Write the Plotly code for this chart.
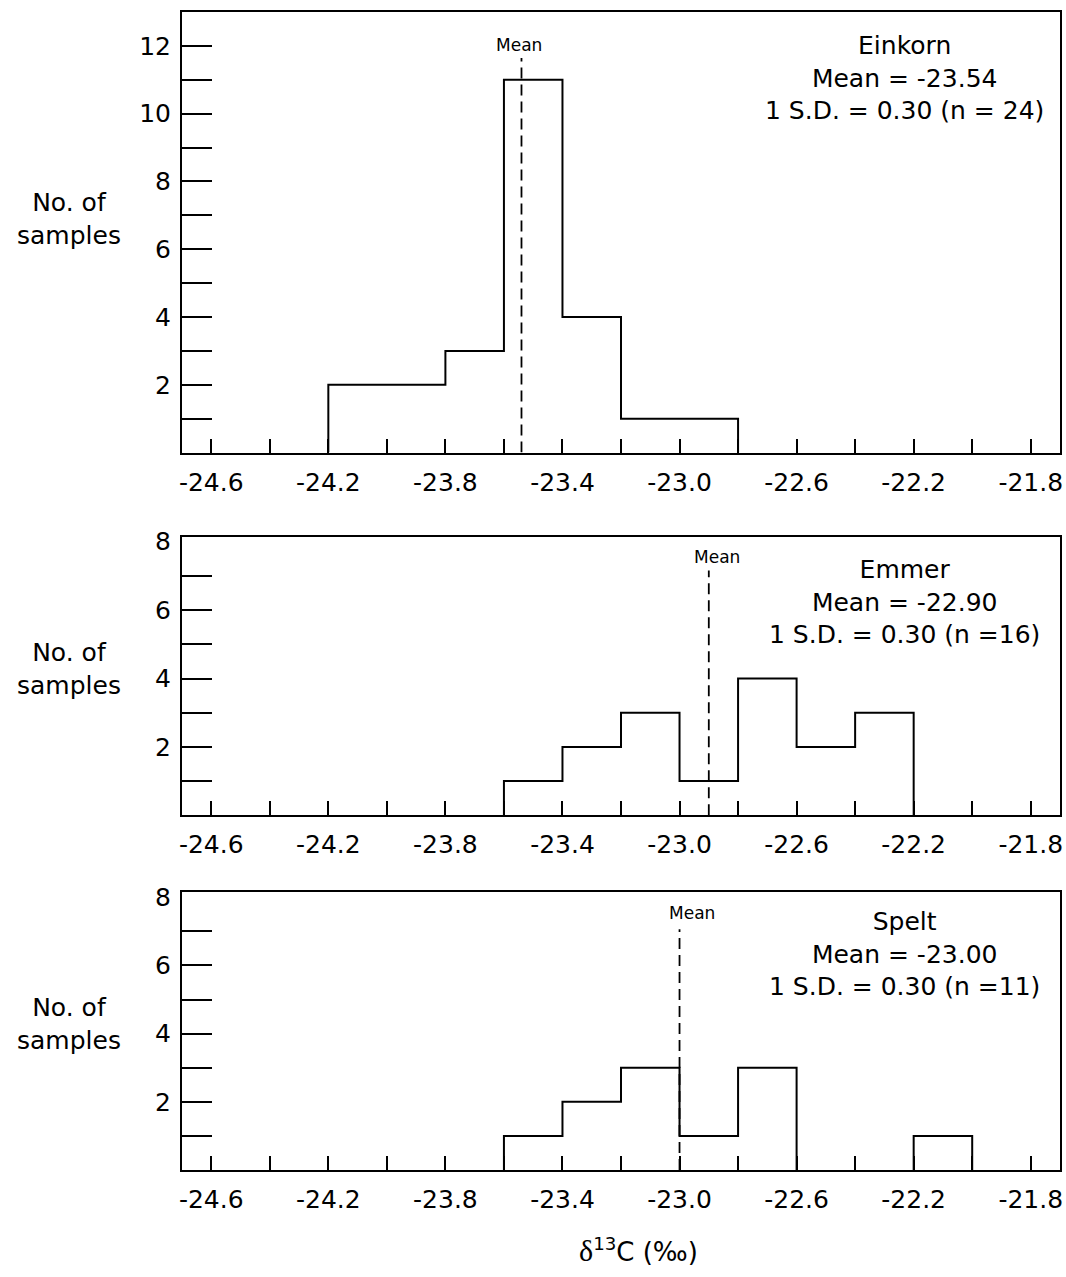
import plotly.graph_objects as go

# ---- data ----
bin_edges = [-24.2, -24.0, -23.8, -23.6, -23.4, -23.2, -23.0, -22.8, -22.6, -22.4, -22.2, -22.0]
einkorn_counts = [2, 2, 3, 11, 4, 1, 1, 0, 0, 0, 0]
emmer_counts = [0, 0, 0, 1, 2, 3, 1, 4, 2, 3, 0]
spelt_counts = [0, 0, 0, 1, 2, 3, 1, 3, 0, 0, 1]
species = ["Einkorn", "Emmer", "Spelt"]
means = [-23.54, -22.90, -23.00]
mean_labels = ["-23.54", "-22.90", "-23.00"]
sd_labels = ["0.30", "0.30", "0.30"]
n_labels = ["(n = 24)", "(n =16)", "(n =11)"]
x_tick_values = [-24.6, -24.2, -23.8, -23.4, -23.0, -22.6, -22.2, -21.8]
x_tick_labels = ["-24.6", "-24.2", "-23.8", "-23.4", "-23.0", "-22.6", "-22.2", "-21.8"]
x_minor_values = [-24.6, -24.4, -24.2, -24.0, -23.8, -23.6, -23.4, -23.2, -23.0,
                  -22.8, -22.6, -22.4, -22.2, -22.0, -21.8]
y_tick_values_top = [2, 4, 6, 8, 10, 12]
y_tick_labels_top = ["2", "4", "6", "8", "10", "12"]
y_minor_top = [1, 2, 3, 4, 5, 6, 7, 8, 9, 10, 11, 12]
y_tick_values_low = [2, 4, 6, 8]
y_tick_labels_low = ["2", "4", "6", "8"]
y_minor_low = [1, 2, 3, 4, 5, 6, 7]

counts_all = [einkorn_counts, emmer_counts, spelt_counts]

FONT = "DejaVu Sans, Liberation Sans, Arial, sans-serif"
BLACK = "black"


def step_outline(edges, counts):
    """Outline of the histogram: one 'hv' path per run of non-empty bins."""
    xs, ys = [], []
    i, n = 0, len(counts)
    while i < n:
        if counts[i] == 0:
            i += 1
            continue
        j = i
        xs.append(edges[i]); ys.append(0)
        while j < n and counts[j] > 0:
            xs.append(edges[j]); ys.append(counts[j])
            j += 1
        xs.append(edges[j]); ys.append(0)
        xs.append(None); ys.append(None)
        i = j
    return xs, ys


fig = go.Figure()

# panel geometry
domains = [[0.6195, 1.0], [0.3063, 0.547], [0.0, 0.2399]]
y_ranges = [[0, 13], [0, 8.15], [0, 8.15]]
mean_line_tops = [11.64, 7.16, 7.06]
mean_text_y = [12.02, 7.54, 7.53]
mean_text_x = [-23.55, -22.871, -22.956]
info_y = [12.5, 7.66, 7.76]
info_x = -22.23
ytitle_y = [0.8214, 0.4323, 0.126]

layout_axes = {}
annotations = []
for i in range(3):
    xa = "x" if i == 0 else f"x{i+1}"
    ya = "y" if i == 0 else f"y{i+1}"
    xs, ys = step_outline(bin_edges, counts_all[i])
    fig.add_trace(go.Scatter(x=xs, y=ys, mode="lines", connectgaps=False,
                             line=dict(color=BLACK, width=2, shape="hv"),
                             xaxis=xa, yaxis=ya, hoverinfo="skip"))
    fig.add_trace(go.Scatter(x=[means[i], means[i]], y=[0, mean_line_tops[i]], mode="lines",
                             line=dict(color=BLACK, width=1.8, dash="11px,6px"),
                             xaxis=xa, yaxis=ya, hoverinfo="skip"))
    xkey = "xaxis" if i == 0 else f"xaxis{i+1}"
    ykey = "yaxis" if i == 0 else f"yaxis{i+1}"
    layout_axes[xkey] = dict(
        domain=[0, 1], anchor=ya, range=[-24.7, -21.7],
        showline=True, linecolor=BLACK, linewidth=2, mirror=True,
        showgrid=False, zeroline=False,
        tickmode="array", tickvals=x_tick_values, ticktext=x_tick_labels,
        ticks="inside", ticklen=14, tickwidth=2, tickcolor=BLACK,
        minor=dict(tickmode="array", tickvals=x_minor_values, ticks="inside",
                   ticklen=14, tickwidth=2, tickcolor=BLACK, showgrid=False),
        tickfont=dict(family=FONT, size=25, color=BLACK),
        ticklabelstandoff=6,
    )
    if i == 0:
        tv, tt, mv = y_tick_values_top, y_tick_labels_top, y_minor_top
    else:
        tv, tt, mv = y_tick_values_low, y_tick_labels_low, y_minor_low
    layout_axes[ykey] = dict(
        domain=domains[i], anchor=xa, range=y_ranges[i],
        showline=True, linecolor=BLACK, linewidth=2, mirror=True,
        showgrid=False, zeroline=False,
        tickmode="array", tickvals=tv, ticktext=tt,
        ticks="",
        minor=dict(tickmode="array", tickvals=mv, ticks="inside",
                   ticklen=30, tickwidth=2, tickcolor=BLACK, showgrid=False),
        tickfont=dict(family=FONT, size=25, color=BLACK),
        ticklabelstandoff=4,
    )
    annotations.append(dict(
        x=info_x, y=info_y[i], xref=xa, yref=ya, xanchor="center", yanchor="top",
        text=f"{species[i]}<br>Mean = {mean_labels[i]}<br>1 S.D. = {sd_labels[i]} {n_labels[i]}",
        showarrow=False, align="center",
        font=dict(family=FONT, size=25, color=BLACK),
    ))
    annotations.append(dict(
        x=mean_text_x[i], y=mean_text_y[i], xref=xa, yref=ya, xanchor="center", yanchor="middle",
        text="Mean", showarrow=False, font=dict(family=FONT, size=17, color=BLACK),
    ))
    annotations.append(dict(
        x=-0.129, y=ytitle_y[i], xref="paper", yref="paper", xanchor="center", yanchor="middle",
        text="No. of<br>samples", showarrow=False, align="center",
        font=dict(family=FONT, size=25, color=BLACK),
    ))

annotations.append(dict(
    x=0.52, y=-0.069, xref="paper", yref="paper", xanchor="center", yanchor="middle",
    text="<span style='font-family:Liberation Serif;font-size:30px'>δ</span><sup>13</sup>C (‰)",
    showarrow=False, font=dict(family=FONT, size=26, color=BLACK),
))

fig.update_layout(
    width=1066, height=1277,
    margin=dict(l=182, r=3, t=11, b=107),
    paper_bgcolor="white", plot_bgcolor="white",
    showlegend=False,
    annotations=annotations,
    **layout_axes,
)

fig.write_html("out.html",
               config={"displayModeBar": False},
               post_script="document.body.style.margin='0';document.body.style.overflow='hidden';")
